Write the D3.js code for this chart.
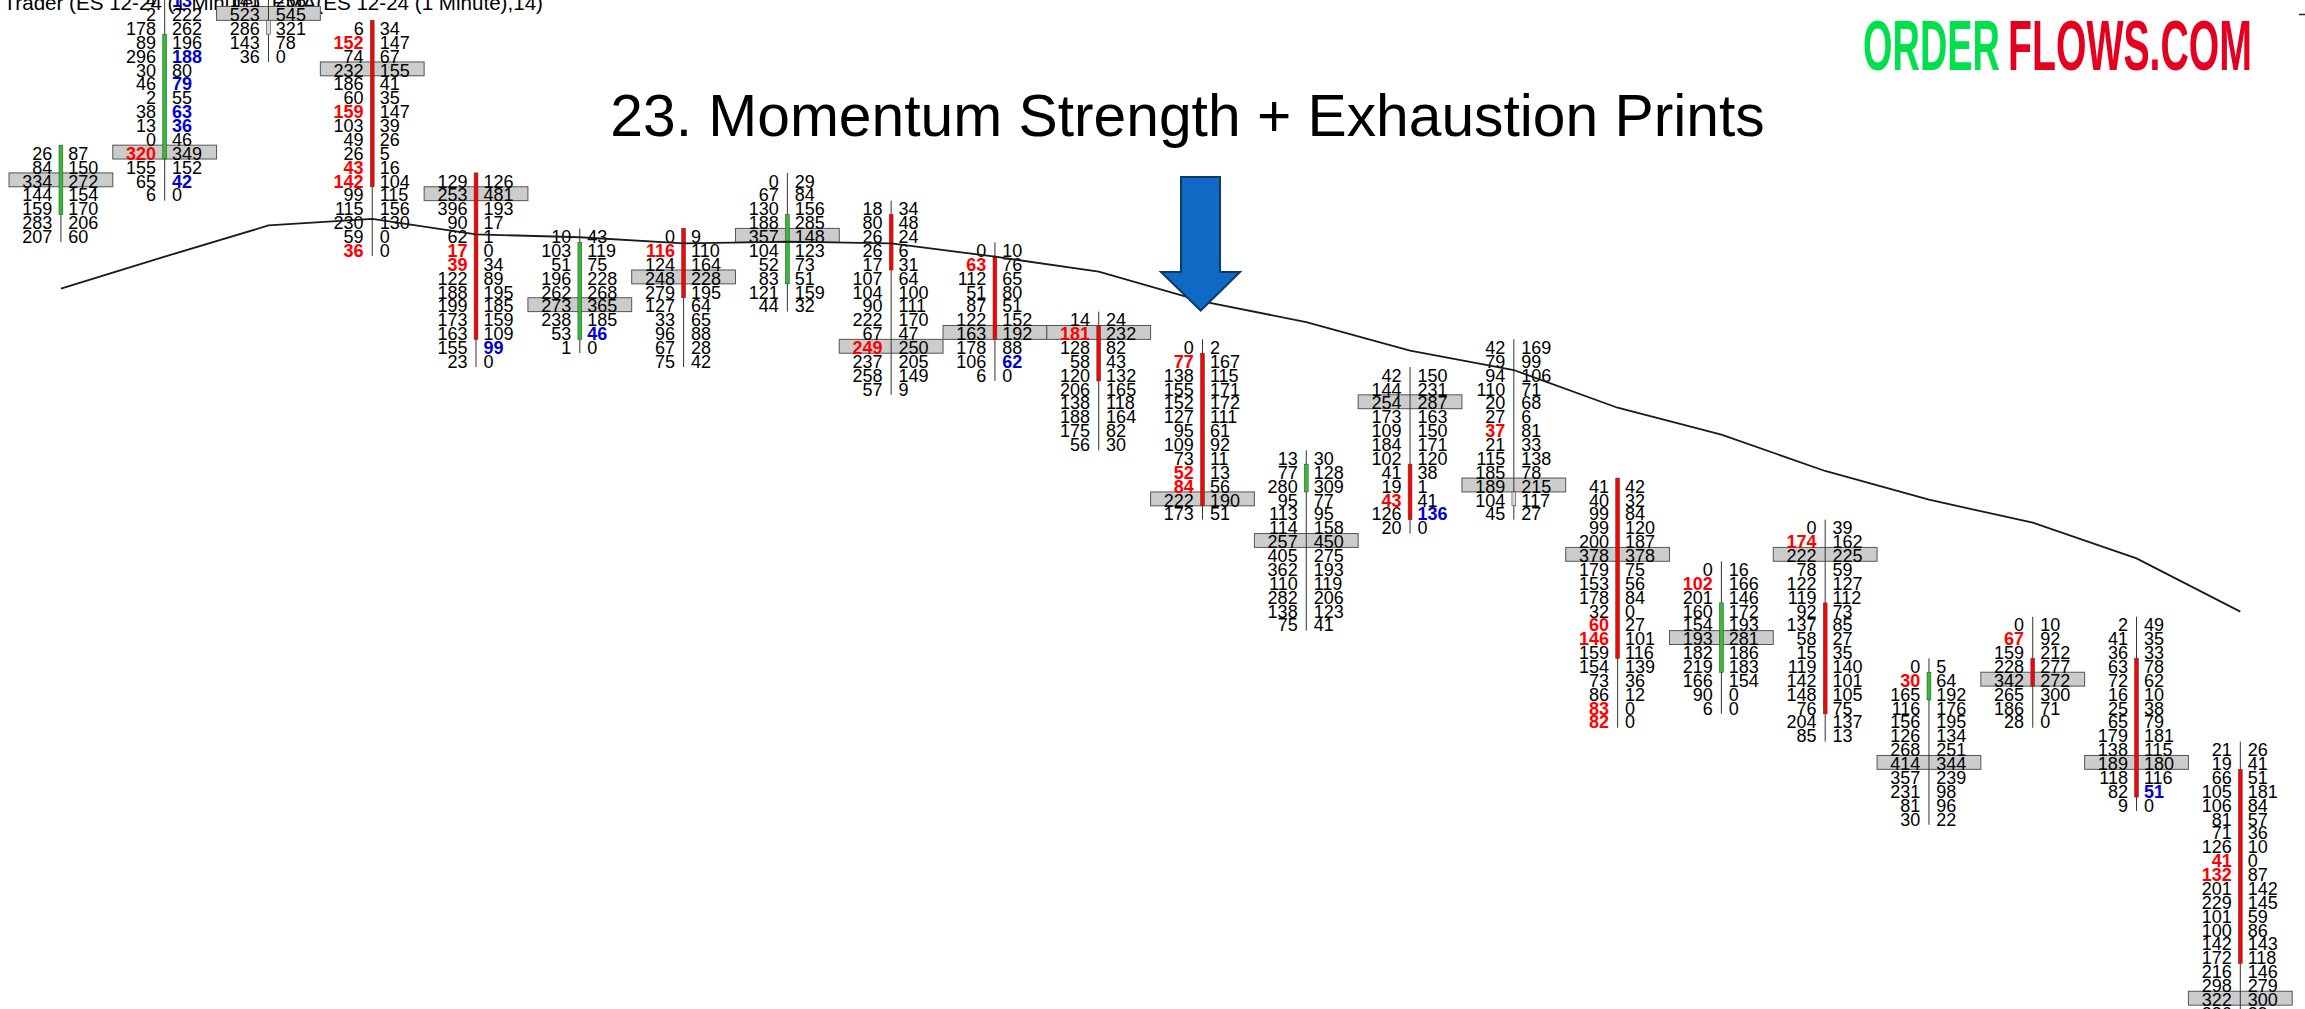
<!DOCTYPE html>
<html lang="en">
<head>
    <meta charset="UTF-8">
    <title>Momentum Strength + Exhaustion Prints</title>
    <style>
        html, body {
            margin: 0;
            background: #fff;
            overflow: hidden;
        }
        svg {
            display: block;
        }
        text {
            font-family: "Liberation Sans", Arial, sans-serif;
        }
        .cell {
            font-size: 18px;
            fill: #000;
        }
        .cell.sell {
            fill: #ff0000;
            font-weight: bold;
        }
        .cell.buy {
            fill: #0000d2;
            font-weight: bold;
        }
        .logo {
            font-family: "Liberation Sans Narrow", "Liberation Sans", sans-serif;
            font-size: 71px;
            font-weight: bold;
        }
    </style>
</head>
<body>
    <div id="chart"></div>

    <script src="https://d3js.org/d3.v7.min.js"></script>
    <script>
        // Price rows are counted downwards, row 0 is the top row of the first bar
        const firstRows = [0, -11, -11, -9, 2, 6, 6, 2, 4, 7, 12, 14, 22, 16, 14, 24, 30, 27, 37, 34, 34, 43];

        const bids = [
            [26, 84, 334, 144, 159, 283, 207],
            [4, 2, 178, 89, 296, 30, 46, 2, 38, 13, 0, 320, 155, 65, 6],
            [141, 523, 286, 143, 36],
            [6, 152, 74, 232, 186, 60, 159, 103, 49, 26, 43, 142, 99, 115, 230, 59, 36],
            [129, 253, 396, 90, 62, 17, 39, 122, 188, 199, 173, 163, 155, 23],
            [10, 103, 51, 196, 262, 273, 238, 53, 1],
            [0, 116, 124, 248, 279, 127, 33, 96, 67, 75],
            [0, 67, 130, 188, 357, 104, 52, 83, 121, 44],
            [18, 80, 26, 26, 17, 107, 104, 90, 222, 67, 249, 237, 258, 57],
            [0, 63, 112, 51, 87, 122, 163, 178, 106, 6],
            [14, 181, 128, 58, 120, 206, 138, 188, 175, 56],
            [0, 77, 138, 155, 152, 127, 95, 109, 73, 52, 84, 222, 173],
            [13, 77, 280, 95, 113, 114, 257, 405, 362, 110, 282, 138, 75],
            [42, 144, 254, 173, 109, 184, 102, 41, 19, 43, 126, 20],
            [42, 79, 94, 110, 20, 27, 37, 21, 115, 185, 189, 104, 45],
            [41, 40, 99, 99, 200, 378, 179, 153, 178, 32, 60, 146, 159, 154, 73, 86, 83, 82],
            [0, 102, 201, 160, 154, 193, 182, 219, 166, 90, 6],
            [0, 174, 222, 78, 122, 119, 92, 137, 58, 15, 119, 142, 148, 76, 204, 85],
            [0, 30, 165, 116, 156, 126, 268, 414, 357, 231, 81, 30],
            [0, 67, 159, 228, 342, 265, 186, 28],
            [2, 41, 36, 63, 72, 16, 25, 65, 179, 138, 189, 118, 82, 9],
            [21, 19, 66, 105, 106, 81, 71, 126, 41, 132, 201, 229, 101, 100, 142, 172, 216, 298, 322, 236]
        ];

        const asks = [
            [87, 150, 272, 154, 170, 206, 60],
            [13, 222, 262, 196, 188, 80, 79, 55, 63, 36, 46, 349, 152, 42, 0],
            [256, 545, 321, 78, 0],
            [34, 147, 67, 155, 41, 35, 147, 39, 26, 5, 16, 104, 115, 156, 130, 0, 0],
            [126, 481, 193, 17, 1, 0, 34, 89, 195, 185, 159, 109, 99, 0],
            [43, 119, 75, 228, 268, 365, 185, 46, 0],
            [9, 110, 164, 228, 195, 64, 65, 88, 28, 42],
            [29, 84, 156, 285, 148, 123, 73, 51, 159, 32],
            [34, 48, 24, 6, 31, 64, 100, 111, 170, 47, 250, 205, 149, 9],
            [10, 76, 65, 80, 51, 152, 192, 88, 62, 0],
            [24, 232, 82, 43, 132, 165, 118, 164, 82, 30],
            [2, 167, 115, 171, 172, 111, 61, 92, 11, 13, 56, 190, 51],
            [30, 128, 309, 77, 95, 158, 450, 275, 193, 119, 206, 123, 41],
            [150, 231, 287, 163, 150, 171, 120, 38, 1, 41, 136, 0],
            [169, 99, 106, 71, 68, 6, 81, 33, 138, 78, 215, 117, 27],
            [42, 32, 84, 120, 187, 378, 75, 56, 84, 0, 27, 101, 116, 139, 36, 12, 0, 0],
            [16, 166, 146, 172, 193, 281, 186, 183, 154, 0, 0],
            [39, 162, 225, 59, 127, 112, 73, 85, 27, 35, 140, 101, 105, 75, 137, 13],
            [5, 64, 192, 176, 195, 134, 251, 344, 239, 98, 96, 22],
            [10, 92, 212, 277, 272, 300, 71, 0],
            [49, 35, 33, 78, 62, 10, 38, 79, 181, 115, 180, 116, 51, 0],
            [26, 41, 51, 181, 84, 57, 36, 10, 0, 87, 142, 145, 59, 86, 143, 118, 146, 279, 300, 39]
        ];

        // Row of the highest volume box
        const pocRows = [2, 0, -10, -6, 3, 11, 9, 6, 14, 13, 13, 25, 28, 18, 24, 29, 35, 29, 44, 38, 44, 61];

        const bodyTops = [0, -8, -9, -9, 2, 7, 6, 5, 5, 8, 13, 15, 23, 23, 25, 24, 33, 33, 38, 37, 37, 45];
        const bodyBottoms = [4, 0, -9, 2, 13, 13, 10, 9, 8, 13, 16, 25, 24, 26, 25, 36, 37, 40, 39, 38, 46, 58];
        const bodyKinds = ['up', 'up', 'flat', 'down', 'down', 'up', 'down', 'up', 'down', 'down', 'down', 'down',
            'up', 'down', 'flat', 'down', 'up', 'down', 'up', 'down', 'down', 'down'];

        // Last row of each wick (the first comes from firstRows)
        const wickBottoms = [6, 3, -7, 7, 15, 14, 15, 11, 17, 16, 21, 26, 34, 27, 26, 41, 40, 42, 48, 41, 47, 62];

        // Exhaustion prints, by row: red on the bid side, blue on the ask side
        const redPrints = [
            [], [0], [], [-8, -3, 1, 2, 7], [7, 8], [], [7], [], [14], [8], [13],
            [15, 23, 24], [], [25], [20], [34, 35, 40, 41], [31], [28], [38], [35], [], [51, 52]
        ];
        const bluePrints = [
            [], [-11, -7, -5, -3, -2, 2], [], [], [14], [13], [], [], [], [15], [],
            [], [], [26], [], [], [], [], [], [], [46], []
        ];

        // EMA per bar, in rows
        const ema = [9.85, 7.54, 5.29, 4.82, 5.93, 6.14, 6.58, 6.46, 6.58, 7.54, 8.62, 10.77, 12.25, 14.32, 15.71,
            18.43, 20.37, 22.99, 25.06, 26.72, 29.29, 33.13];

        const width = 2305;
        const height = 1009;

        const x = d3.scaleLinear().domain([0, 21]).range([60.9, 2240.3]);
        const y = d3.scaleLinear().domain([0, 61]).range([152.1, 998.2]);
        const barStep = x(1) - x(0);
        const rowStep = y(1) - y(0);

        const svg = d3.select('#chart')
            .append('svg')
            .attr('width', width)
            .attr('height', height);

        const bars = d3.range(firstRows.length);
        const colors = { up: '#2fc02f', down: '#ff0000', flat: '#dcdcdc' };

        // Header text sits under the bars
        svg.append('text')
            .attr('x', 3.5)
            .attr('y', 10)
            .attr('font-size', 20.6)
            .text('Trader (ES 12-24 (1 Minute), EMA(ES 12-24 (1 Minute),14)');

        // Highest volume boxes
        svg.append('g')
            .selectAll('rect')
            .data(bars)
            .enter()
            .append('rect')
            .attr('x', i => x(i) - barStep / 2)
            .attr('y', i => y(pocRows[i]) - rowStep / 2)
            .attr('width', barStep)
            .attr('height', rowStep)
            .attr('fill', '#cccccc')
            .attr('stroke', '#555')
            .attr('stroke-width', 1);

        // Wicks
        svg.append('g')
            .selectAll('line')
            .data(bars)
            .enter()
            .append('line')
            .attr('x1', x)
            .attr('x2', x)
            .attr('y1', i => y(firstRows[i]) - rowStep / 2)
            .attr('y2', i => y(wickBottoms[i]) + rowStep / 2)
            .attr('stroke', '#333')
            .attr('stroke-width', 1);

        // Bodies
        svg.append('g')
            .selectAll('rect')
            .data(bars)
            .enter()
            .append('rect')
            .attr('x', i => x(i) - 1.9)
            .attr('y', i => y(bodyTops[i]) - rowStep / 2)
            .attr('width', 3.8)
            .attr('height', i => y(bodyBottoms[i]) - y(bodyTops[i]) + rowStep)
            .attr('fill', i => colors[bodyKinds[i]])
            .attr('stroke', '#444')
            .attr('stroke-width', 0.6);

        // Bid and ask cells
        const cells = bars.flatMap(i => bids[i].map((bid, k) => ({
            bar: i,
            row: firstRows[i] + k,
            bid: bid,
            ask: asks[i][k]
        })));

        svg.append('g')
            .selectAll('text')
            .data(cells)
            .enter()
            .append('text')
            .attr('class', d => redPrints[d.bar].includes(d.row) ? 'cell sell' : 'cell')
            .attr('x', d => x(d.bar) - 8.6)
            .attr('y', d => y(d.row) + 7.7)
            .attr('text-anchor', 'end')
            .text(d => d.bid);

        svg.append('g')
            .selectAll('text')
            .data(cells)
            .enter()
            .append('text')
            .attr('class', d => bluePrints[d.bar].includes(d.row) ? 'cell buy' : 'cell')
            .attr('x', d => x(d.bar) + 7.4)
            .attr('y', d => y(d.row) + 7.7)
            .attr('text-anchor', 'start')
            .text(d => d.ask);

        // EMA line
        const emaLine = d3.line()
            .x((d, i) => x(i))
            .y(d => y(d));

        svg.append('path')
            .datum(ema)
            .attr('d', emaLine)
            .attr('fill', 'none')
            .attr('stroke', '#1a1a1a')
            .attr('stroke-width', 1.8);

        // Arrow annotation
        svg.append('path')
            .attr('d', 'M1181,177H1220V272H1240L1200.7,310.5L1161,272H1181Z')
            .attr('fill', '#1069c4')
            .attr('stroke', '#0e3a68')
            .attr('stroke-width', 2);

        svg.append('text')
            .attr('x', 1187.5)
            .attr('y', 136)
            .attr('text-anchor', 'middle')
            .attr('font-size', 58.75)
            .text('23. Momentum Strength + Exhaustion Prints');

        // Logo
        svg.append('text')
            .attr('class', 'logo')
            .attr('x', 1863)
            .attr('y', 70)
            .attr('textLength', 137)
            .attr('lengthAdjust', 'spacingAndGlyphs')
            .attr('fill', '#00e04c')
            .text('ORDER');

        svg.append('text')
            .attr('class', 'logo')
            .attr('x', 2008)
            .attr('y', 70)
            .attr('textLength', 244)
            .attr('lengthAdjust', 'spacingAndGlyphs')
            .attr('fill', '#e6001f')
            .text('FLOWS.COM');

        svg.append('line')
            .attr('x1', 2299)
            .attr('x2', 2305)
            .attr('y1', 14.5)
            .attr('y2', 14.5)
            .attr('stroke', '#222')
            .attr('stroke-width', 1.5);
    </script>
</body>
</html>
